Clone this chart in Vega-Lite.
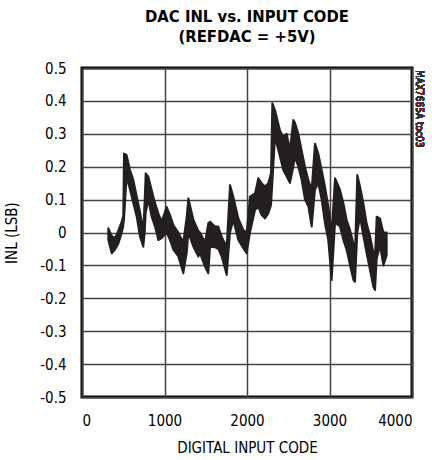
{
  "$schema": "https://vega.github.io/schema/vega-lite/v6.json",
  "width": 330,
  "height": 329,
  "autosize": "none",
  "padding": {"left": 82, "top": 68, "right": 20, "bottom": 63},
  "background": "white",
  "config": {
    "font": "DejaVu Sans Condensed, Roboto Condensed, Liberation Sans, sans-serif",
    "view": {"stroke": "black", "strokeWidth": 3},
    "axis": {
      "domain": false,
      "ticks": false,
      "grid": true,
      "gridColor": "#444444",
      "gridWidth": 1.5,
      "gridOpacity": 1,
      "labelOverlap": false,
      "labelFont": "DejaVu Sans Condensed, Roboto Condensed, Liberation Sans, sans-serif",
      "labelFontSize": 15,
      "labelColor": "black",
      "titleFont": "DejaVu Sans Condensed, Roboto Condensed, Liberation Sans, sans-serif",
      "titleFontSize": 15,
      "titleFontWeight": "normal",
      "titleColor": "black"
    }
  },
  "title": {
    "text": ["DAC INL vs. INPUT CODE", "(REFDAC = +5V)"],
    "font": "DejaVu Sans Condensed, Roboto Condensed, Liberation Sans, sans-serif",
    "fontSize": 16.5,
    "fontWeight": "bold",
    "lineHeight": 20,
    "anchor": "middle",
    "color": "black",
    "offset": 16
  },
  "data": {
    "values": [
      {"code": 319, "hi": 0.013, "lo": -0.023},
      {"code": 360, "hi": -0.01, "lo": -0.063},
      {"code": 400, "hi": -0.017, "lo": -0.052},
      {"code": 440, "hi": 0.006, "lo": -0.034},
      {"code": 481, "hi": 0.033, "lo": -0.001},
      {"code": 500, "hi": 0.05, "lo": 0.02},
      {"code": 509, "hi": 0.24, "lo": 0.04},
      {"code": 541, "hi": 0.235, "lo": 0.17},
      {"code": 582, "hi": 0.19, "lo": 0.13},
      {"code": 622, "hi": 0.16, "lo": 0.09},
      {"code": 663, "hi": 0.11, "lo": 0.048},
      {"code": 703, "hi": 0.063, "lo": -0.013},
      {"code": 743, "hi": 0.006, "lo": -0.043},
      {"code": 760, "hi": 0.1, "lo": 0.0},
      {"code": 772, "hi": 0.18, "lo": 0.06},
      {"code": 804, "hi": 0.17, "lo": 0.1},
      {"code": 844, "hi": 0.13, "lo": 0.048},
      {"code": 885, "hi": 0.09, "lo": 0.018},
      {"code": 925, "hi": 0.058, "lo": -0.023},
      {"code": 966, "hi": 0.033, "lo": -0.017},
      {"code": 1026, "hi": 0.078, "lo": 0.0},
      {"code": 1067, "hi": 0.053, "lo": -0.023},
      {"code": 1107, "hi": 0.023, "lo": -0.052},
      {"code": 1168, "hi": 0.0, "lo": -0.073},
      {"code": 1228, "hi": -0.03, "lo": -0.124},
      {"code": 1270, "hi": 0.05, "lo": -0.06},
      {"code": 1289, "hi": 0.104, "lo": 0.0},
      {"code": 1349, "hi": 0.04, "lo": -0.043},
      {"code": 1410, "hi": 0.005, "lo": -0.073},
      {"code": 1430, "hi": 0.0, "lo": -0.063},
      {"code": 1491, "hi": -0.03, "lo": -0.104},
      {"code": 1531, "hi": 0.028, "lo": -0.124},
      {"code": 1552, "hi": 0.033, "lo": -0.043},
      {"code": 1612, "hi": 0.018, "lo": -0.045},
      {"code": 1652, "hi": 0.018, "lo": -0.05},
      {"code": 1693, "hi": -0.013, "lo": -0.073},
      {"code": 1754, "hi": -0.043, "lo": -0.129},
      {"code": 1794, "hi": 0.144, "lo": 0.0},
      {"code": 1834, "hi": 0.109, "lo": 0.038},
      {"code": 1895, "hi": 0.043, "lo": -0.023},
      {"code": 1955, "hi": 0.008, "lo": -0.048},
      {"code": 1996, "hi": -0.001, "lo": -0.063},
      {"code": 2036, "hi": 0.109, "lo": 0.0},
      {"code": 2097, "hi": 0.119, "lo": 0.068},
      {"code": 2137, "hi": 0.165, "lo": 0.078},
      {"code": 2177, "hi": 0.15, "lo": 0.053},
      {"code": 2218, "hi": 0.14, "lo": 0.043},
      {"code": 2258, "hi": 0.15, "lo": 0.058},
      {"code": 2291, "hi": 0.18, "lo": 0.083},
      {"code": 2307, "hi": 0.393, "lo": 0.15},
      {"code": 2339, "hi": 0.372, "lo": 0.29},
      {"code": 2400, "hi": 0.31, "lo": 0.23},
      {"code": 2440, "hi": 0.29, "lo": 0.19},
      {"code": 2481, "hi": 0.3, "lo": 0.17},
      {"code": 2521, "hi": 0.25, "lo": 0.15},
      {"code": 2561, "hi": 0.342, "lo": 0.2},
      {"code": 2580, "hi": 0.335, "lo": 0.23},
      {"code": 2622, "hi": 0.3, "lo": 0.2},
      {"code": 2662, "hi": 0.25, "lo": 0.16},
      {"code": 2703, "hi": 0.2, "lo": 0.1},
      {"code": 2743, "hi": 0.16, "lo": 0.08},
      {"code": 2784, "hi": 0.13, "lo": 0.018},
      {"code": 2824, "hi": 0.27, "lo": 0.13},
      {"code": 2864, "hi": 0.24, "lo": 0.15},
      {"code": 2905, "hi": 0.19, "lo": 0.1},
      {"code": 2945, "hi": 0.14, "lo": 0.028},
      {"code": 2985, "hi": 0.08, "lo": -0.023},
      {"code": 3026, "hi": 0.0, "lo": -0.144},
      {"code": 3067, "hi": 0.165, "lo": 0.03},
      {"code": 3127, "hi": 0.13, "lo": 0.018},
      {"code": 3168, "hi": 0.09, "lo": -0.023},
      {"code": 3208, "hi": 0.038, "lo": -0.053},
      {"code": 3249, "hi": 0.008, "lo": -0.1},
      {"code": 3289, "hi": -0.033, "lo": -0.144},
      {"code": 3309, "hi": -0.06, "lo": -0.15},
      {"code": 3337, "hi": 0.175, "lo": 0.0},
      {"code": 3370, "hi": 0.14, "lo": 0.048},
      {"code": 3410, "hi": 0.09, "lo": -0.01},
      {"code": 3450, "hi": 0.028, "lo": -0.063},
      {"code": 3491, "hi": -0.01, "lo": -0.114},
      {"code": 3531, "hi": -0.06, "lo": -0.165},
      {"code": 3552, "hi": -0.07, "lo": -0.175},
      {"code": 3572, "hi": 0.048, "lo": -0.08},
      {"code": 3612, "hi": 0.043, "lo": -0.04},
      {"code": 3653, "hi": 0.0, "lo": -0.1},
      {"code": 3693, "hi": 0.0, "lo": -0.07}
    ]
  },
  "layer": [
    {
      "mark": {"type": "area", "color": "#231f20", "stroke": "#231f20", "strokeWidth": 2, "strokeJoin": "round"},
      "encoding": {
        "x": {
          "field": "code",
          "type": "quantitative",
          "scale": {"domain": [0, 4000]},
          "axis": {"values": [0, 1000, 2000, 3000, 4000], "format": "d", "grid": true, "labelOverlap": false, "labelPadding": 16, "title": "DIGITAL INPUT CODE", "titlePadding": 12}
        },
        "y": {
          "field": "hi",
          "type": "quantitative",
          "scale": {"domain": [-0.5, 0.5]},
          "axis": {"values": [-0.5, -0.4, -0.3, -0.2, -0.1, 0, 0.1, 0.2, 0.3, 0.4, 0.5], "grid": true, "labelOverlap": false, "labelPadding": 16, "title": "INL (LSB)", "titlePadding": 20, "labelExpr": "datum.value === 0 ? '0' : replace(format(datum.value, '.1f'), '\u2212', '-')"}
        },
        "y2": {"field": "lo"}
      }
    },
    {
      "mark": {"type": "text", "angle": 90, "align": "left", "baseline": "middle", "fontSize": 10, "color": "#333", "dx": 2, "dy": -7},
      "encoding": {
        "x": {"datum": 4000, "type": "quantitative", "axis": {"values": [0, 1000, 2000, 3000, 4000], "format": "d", "grid": true, "labelOverlap": false, "labelPadding": 16, "title": "DIGITAL INPUT CODE", "titlePadding": 12}},
        "y": {"datum": 0.5, "type": "quantitative", "axis": {"values": [-0.5, -0.4, -0.3, -0.2, -0.1, 0, 0.1, 0.2, 0.3, 0.4, 0.5], "grid": true, "labelOverlap": false, "labelPadding": 16, "title": "INL (LSB)", "titlePadding": 20, "labelExpr": "datum.value === 0 ? '0' : replace(format(datum.value, '.1f'), '\u2212', '-')"}},
        "text": {"value": "MAX7665A toc03"}
      }
    }
  ]
}
